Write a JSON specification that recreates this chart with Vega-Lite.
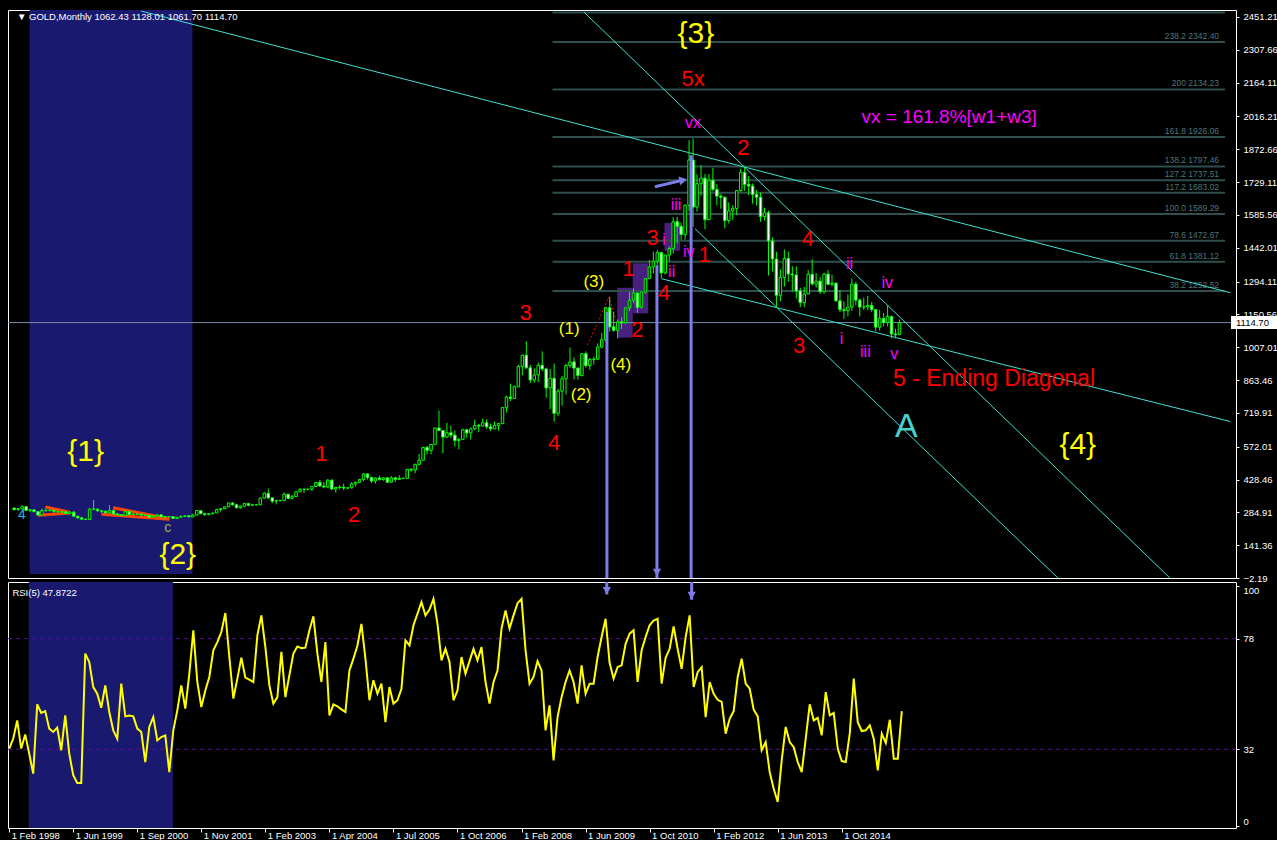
{
"$schema":"https://vega.github.io/schema/vega-lite/v6.json",
"background":"#000000",
"padding":{"left":4,"top":8,"right":0,"bottom":0},
"spacing":4,
"bounds":"flush",
"config":{"view":{"stroke":"#FFFFFF","strokeWidth":1},"text":{"font":"Liberation Sans"},"axis":{"grid":false,"domain":false,"labelColor":"#FFFFFF","tickColor":"#FFFFFF","labelFont":"Liberation Sans","labelFontSize":9.5,"labelOverlap":false}},
"datasets":{
"bars":[
{"t":0,"o":304,"h":305,"l":292,"c":297,"r":32.3},{"t":1,"o":297,"h":303,"l":292,"c":301,"r":36.4},{"t":2,"o":301,"h":315,"l":300,"c":310,"r":44.0},{"t":3,"o":310,"h":311,"l":290,"c":294,"r":32.3},{"t":4,"o":294,"h":299,"l":286,"c":296,"r":38.2},{"t":5,"o":296,"h":297,"l":286,"c":288,"r":30.2},{"t":6,"o":288,"h":289,"l":272,"c":273,"r":21.9},{"t":7,"o":273,"h":301,"l":272,"c":293,"r":50.7},{"t":8,"o":293,"h":302,"l":288,"c":292,"r":47.1},{"t":9,"o":292,"h":300,"l":290,"c":294,"r":47.9},
{"t":10,"o":294,"h":296,"l":283,"c":288,"r":40.6},{"t":11,"o":288,"h":292,"l":284,"c":287,"r":39.2},{"t":12,"o":287,"h":291,"l":282,"c":287,"r":41.0},{"t":13,"o":287,"h":290,"l":278,"c":280,"r":31.6},{"t":14,"o":280,"h":291,"l":279,"c":286,"r":46.1},{"t":15,"o":286,"h":290,"l":266,"c":268,"r":30.2},{"t":16,"o":268,"h":269,"l":257,"c":261,"r":21.2},{"t":17,"o":261,"h":263,"l":253,"c":255,"r":18.0},{"t":18,"o":255,"h":258,"l":252,"c":254,"r":18.0},{"t":19,"o":254,"h":304,"l":253,"c":299,"r":71.8},
{"t":20,"o":299,"h":339,"l":295,"c":299,"r":68.3},{"t":21,"o":299,"h":302,"l":287,"c":292,"r":57.9},{"t":22,"o":292,"h":294,"l":281,"c":290,"r":55.1},{"t":23,"o":290,"h":292,"l":281,"c":283,"r":49.3},{"t":24,"o":283,"h":316,"l":281,"c":293,"r":58.6},{"t":25,"o":293,"h":297,"l":276,"c":278,"r":47.5},{"t":26,"o":278,"h":283,"l":273,"c":275,"r":39.9},{"t":27,"o":275,"h":277,"l":268,"c":272,"r":36.4},{"t":28,"o":272,"h":292,"l":271,"c":289,"r":59.3},{"t":29,"o":289,"h":291,"l":275,"c":276,"r":45.7},
{"t":30,"o":276,"h":280,"l":271,"c":277,"r":46.1},{"t":31,"o":277,"h":279,"l":275,"c":277,"r":45.7},{"t":32,"o":277,"h":278,"l":268,"c":273,"r":40.6},{"t":33,"o":273,"h":275,"l":270,"c":272,"r":39.2},{"t":34,"o":272,"h":275,"l":263,"c":264,"r":26.7},{"t":35,"o":264,"h":270,"l":262,"c":269,"r":41.3},{"t":36,"o":269,"h":275,"l":267,"c":274,"r":45.4},{"t":37,"o":274,"h":275,"l":263,"c":265,"r":35.7},{"t":38,"o":265,"h":268,"l":255,"c":267,"r":37.1},{"t":39,"o":267,"h":268,"l":264,"c":266,"r":37.8},
{"t":40,"o":266,"h":268,"l":256,"c":258,"r":22.5},{"t":41,"o":258,"h":265,"l":255,"c":264,"r":39.9},{"t":42,"o":264,"h":272,"l":263,"c":267,"r":48.2},{"t":43,"o":267,"h":273,"l":266,"c":270,"r":58.6},{"t":44,"o":270,"h":272,"l":264,"c":265,"r":48.9},{"t":45,"o":265,"h":279,"l":265,"c":273,"r":63.4},{"t":46,"o":273,"h":294,"l":272,"c":293,"r":81.5},{"t":47,"o":293,"h":294,"l":277,"c":279,"r":60.0},{"t":48,"o":279,"h":281,"l":270,"c":275,"r":49.6},{"t":49,"o":275,"h":282,"l":272,"c":279,"r":56.5},
{"t":50,"o":279,"h":284,"l":277,"c":282,"r":62.1},{"t":51,"o":282,"h":300,"l":281,"c":297,"r":73.2},{"t":52,"o":297,"h":304,"l":288,"c":301,"r":76.6},{"t":53,"o":301,"h":310,"l":299,"c":309,"r":80.8},{"t":54,"o":309,"h":327,"l":307,"c":326,"r":88.7},{"t":55,"o":326,"h":329,"l":314,"c":318,"r":70.4},{"t":56,"o":318,"h":322,"l":302,"c":305,"r":53.1},{"t":57,"o":305,"h":315,"l":301,"c":312,"r":61.4},{"t":58,"o":312,"h":326,"l":310,"c":324,"r":70.1},{"t":59,"o":324,"h":325,"l":311,"c":316,"r":61.8},
{"t":60,"o":316,"h":322,"l":313,"c":318,"r":61.0},{"t":61,"o":318,"h":320,"l":315,"c":318,"r":60.0},{"t":62,"o":318,"h":349,"l":316,"c":347,"r":79.4},{"t":63,"o":347,"h":373,"l":343,"c":368,"r":87.7},{"t":64,"o":368,"h":389,"l":345,"c":348,"r":74.5},{"t":65,"o":348,"h":352,"l":325,"c":334,"r":58.6},{"t":66,"o":334,"h":341,"l":320,"c":336,"r":51.0},{"t":67,"o":336,"h":339,"l":333,"c":337,"r":53.7},{"t":68,"o":337,"h":372,"l":335,"c":364,"r":72.5},{"t":69,"o":364,"h":366,"l":342,"c":346,"r":53.7},
{"t":70,"o":346,"h":362,"l":341,"c":354,"r":62.8},{"t":71,"o":354,"h":379,"l":352,"c":375,"r":71.8},{"t":72,"o":375,"h":391,"l":372,"c":385,"r":74.8},{"t":73,"o":385,"h":390,"l":370,"c":386,"r":74.1},{"t":74,"o":386,"h":388,"l":382,"c":386,"r":74.3},{"t":75,"o":386,"h":400,"l":378,"c":398,"r":81.5},{"t":76,"o":398,"h":417,"l":396,"c":416,"r":87.3},{"t":77,"o":416,"h":427,"l":399,"c":400,"r":71.8},{"t":78,"o":400,"h":417,"l":390,"c":396,"r":60.0},{"t":79,"o":396,"h":430,"l":392,"c":426,"r":76.6},
{"t":80,"o":426,"h":428,"l":381,"c":387,"r":46.1},{"t":81,"o":387,"h":397,"l":371,"c":394,"r":50.7},{"t":82,"o":394,"h":404,"l":385,"c":395,"r":49.9},{"t":83,"o":395,"h":411,"l":382,"c":391,"r":48.6},{"t":84,"o":391,"h":394,"l":388,"c":392,"r":47.5},{"t":85,"o":392,"h":417,"l":390,"c":409,"r":64.8},{"t":86,"o":409,"h":420,"l":397,"c":416,"r":69.7},{"t":87,"o":416,"h":432,"l":412,"c":428,"r":75.2},{"t":88,"o":428,"h":456,"l":421,"c":453,"r":84.2},{"t":89,"o":453,"h":456,"l":428,"c":438,"r":69.7},
{"t":90,"o":438,"h":438,"l":414,"c":422,"r":52.4},{"t":91,"o":422,"h":438,"l":411,"c":435,"r":60.7},{"t":92,"o":435,"h":446,"l":424,"c":428,"r":55.1},{"t":93,"o":428,"h":438,"l":423,"c":436,"r":59.3},{"t":94,"o":436,"h":438,"l":414,"c":417,"r":43.3},{"t":95,"o":417,"h":443,"l":414,"c":436,"r":57.9},{"t":96,"o":436,"h":439,"l":418,"c":429,"r":51.0},{"t":97,"o":429,"h":447,"l":429,"c":433,"r":52.4},{"t":98,"o":433,"h":436,"l":431,"c":434,"r":57.2},{"t":99,"o":434,"h":475,"l":433,"c":473,"r":77.3},
{"t":100,"o":473,"h":479,"l":462,"c":470,"r":75.2},{"t":101,"o":470,"h":497,"l":456,"c":495,"r":83.6},{"t":102,"o":495,"h":540,"l":490,"c":513,"r":88.4},{"t":103,"o":513,"h":572,"l":513,"c":569,"r":93.3},{"t":104,"o":569,"h":575,"l":538,"c":556,"r":87.7},{"t":105,"o":556,"h":584,"l":538,"c":582,"r":90.1},{"t":106,"o":582,"h":654,"l":580,"c":654,"r":94.6},{"t":107,"o":654,"h":730,"l":640,"c":643,"r":84.2},{"t":108,"o":643,"h":645,"l":542,"c":614,"r":69.0},{"t":109,"o":614,"h":676,"l":610,"c":633,"r":73.8},
{"t":110,"o":633,"h":664,"l":610,"c":623,"r":68.3},{"t":111,"o":623,"h":643,"l":573,"c":599,"r":52.4},{"t":112,"o":599,"h":610,"l":560,"c":604,"r":56.5},{"t":113,"o":604,"h":650,"l":603,"c":646,"r":70.4},{"t":114,"o":646,"h":650,"l":611,"c":632,"r":63.4},{"t":115,"o":632,"h":657,"l":603,"c":650,"r":68.7},{"t":116,"o":650,"h":690,"l":645,"c":665,"r":73.8},{"t":117,"o":665,"h":672,"l":636,"c":662,"r":69.0},{"t":118,"o":662,"h":694,"l":661,"c":677,"r":74.5},{"t":119,"o":677,"h":692,"l":651,"c":659,"r":60.0},
{"t":120,"o":659,"h":673,"l":640,"c":650,"r":51.0},{"t":121,"o":650,"h":683,"l":648,"c":665,"r":60.0},{"t":122,"o":665,"h":676,"l":642,"c":673,"r":64.8},{"t":123,"o":673,"h":745,"l":670,"c":743,"r":82.2},{"t":124,"o":743,"h":795,"l":722,"c":789,"r":89.8},{"t":125,"o":789,"h":848,"l":772,"c":783,"r":82.2},{"t":126,"o":783,"h":840,"l":781,"c":834,"r":87.7},{"t":127,"o":834,"h":930,"l":833,"c":923,"r":92.8},{"t":128,"o":923,"h":975,"l":884,"c":972,"r":94.6},{"t":129,"o":972,"h":1033,"l":912,"c":917,"r":73.2},
{"t":130,"o":917,"h":930,"l":850,"c":864,"r":59.3},{"t":131,"o":864,"h":915,"l":851,"c":886,"r":62.1},{"t":132,"o":886,"h":940,"l":855,"c":928,"r":68.7},{"t":133,"o":928,"h":989,"l":902,"c":912,"r":64.8},{"t":134,"o":912,"h":918,"l":786,"c":829,"r":39.9},{"t":135,"o":829,"h":912,"l":736,"c":871,"r":50.3},{"t":136,"o":871,"h":936,"l":681,"c":718,"r":27.4},{"t":137,"o":718,"h":825,"l":705,"c":815,"r":45.4},{"t":138,"o":815,"h":882,"l":751,"c":869,"r":53.7},{"t":139,"o":869,"h":935,"l":800,"c":927,"r":60.0},
{"t":140,"o":927,"h":1006,"l":917,"c":943,"r":64.8},{"t":141,"o":943,"h":963,"l":866,"c":916,"r":60.0},{"t":142,"o":916,"h":918,"l":865,"c":883,"r":51.0},{"t":143,"o":883,"h":981,"l":880,"c":979,"r":66.9},{"t":144,"o":979,"h":989,"l":918,"c":927,"r":55.1},{"t":145,"o":927,"h":960,"l":908,"c":954,"r":59.3},{"t":146,"o":954,"h":965,"l":931,"c":955,"r":59.3},{"t":147,"o":955,"h":1024,"l":951,"c":1008,"r":70.4},{"t":148,"o":1008,"h":1070,"l":1003,"c":1040,"r":78.7},{"t":149,"o":1040,"h":1183,"l":1033,"c":1180,"r":86.3},
{"t":150,"o":1180,"h":1227,"l":1075,"c":1096,"r":68.0},{"t":151,"o":1096,"h":1162,"l":1075,"c":1081,"r":61.4},{"t":152,"o":1081,"h":1128,"l":1045,"c":1118,"r":66.2},{"t":153,"o":1118,"h":1138,"l":1087,"c":1113,"r":66.9},{"t":154,"o":1113,"h":1180,"l":1111,"c":1179,"r":75.9},{"t":155,"o":1179,"h":1249,"l":1165,"c":1212,"r":80.1},{"t":156,"o":1212,"h":1265,"l":1200,"c":1244,"r":81.5},{"t":157,"o":1244,"h":1245,"l":1157,"c":1181,"r":60.0},{"t":158,"o":1181,"h":1250,"l":1177,"c":1248,"r":73.2},{"t":159,"o":1248,"h":1308,"l":1242,"c":1307,"r":78.7},
{"t":160,"o":1307,"h":1388,"l":1306,"c":1358,"r":83.6},{"t":161,"o":1358,"h":1425,"l":1330,"c":1383,"r":85.6},{"t":162,"o":1383,"h":1432,"l":1360,"c":1421,"r":86.3},{"t":163,"o":1421,"h":1424,"l":1309,"c":1332,"r":59.3},{"t":164,"o":1332,"h":1411,"l":1326,"c":1410,"r":70.1},{"t":165,"o":1410,"h":1448,"l":1383,"c":1439,"r":73.8},{"t":166,"o":1439,"h":1576,"l":1418,"c":1556,"r":83.1},{"t":167,"o":1556,"h":1577,"l":1462,"c":1536,"r":73.8},{"t":168,"o":1536,"h":1553,"l":1477,"c":1500,"r":65.5},{"t":169,"o":1500,"h":1632,"l":1478,"c":1628,"r":78.7},
{"t":170,"o":1628,"h":1912,"l":1603,"c":1826,"r":87.7},{"t":171,"o":1826,"h":1921,"l":1534,"c":1620,"r":57.9},{"t":172,"o":1620,"h":1764,"l":1600,"c":1722,"r":64.1},{"t":173,"o":1722,"h":1803,"l":1669,"c":1746,"r":66.2},{"t":174,"o":1746,"h":1764,"l":1523,"c":1565,"r":45.4},{"t":175,"o":1565,"h":1764,"l":1564,"c":1737,"r":60.0},{"t":176,"o":1737,"h":1791,"l":1689,"c":1697,"r":55.1},{"t":177,"o":1697,"h":1719,"l":1627,"c":1668,"r":52.6},{"t":178,"o":1668,"h":1677,"l":1613,"c":1663,"r":51.7},{"t":179,"o":1663,"h":1666,"l":1527,"c":1561,"r":38.5},
{"t":180,"o":1561,"h":1641,"l":1548,"c":1604,"r":44.7},{"t":181,"o":1604,"h":1628,"l":1564,"c":1614,"r":47.9},{"t":182,"o":1614,"h":1693,"l":1585,"c":1692,"r":62.1},{"t":183,"o":1692,"h":1788,"l":1687,"c":1772,"r":69.7},{"t":184,"o":1772,"h":1796,"l":1691,"c":1719,"r":59.3},{"t":185,"o":1719,"h":1755,"l":1672,"c":1712,"r":57.2},{"t":186,"o":1712,"h":1723,"l":1635,"c":1675,"r":48.5},{"t":187,"o":1675,"h":1694,"l":1626,"c":1663,"r":45.7},{"t":188,"o":1663,"h":1684,"l":1555,"c":1578,"r":31.6},{"t":189,"o":1578,"h":1617,"l":1562,"c":1595,"r":35.0},
{"t":190,"o":1595,"h":1605,"l":1321,"c":1472,"r":22.5},{"t":191,"o":1472,"h":1488,"l":1338,"c":1393,"r":15.6},{"t":192,"o":1393,"h":1424,"l":1180,"c":1234,"r":10.1},{"t":193,"o":1234,"h":1348,"l":1208,"c":1312,"r":27.4},{"t":194,"o":1312,"h":1434,"l":1272,"c":1395,"r":41.3},{"t":195,"o":1395,"h":1424,"l":1293,"c":1327,"r":35.0},{"t":196,"o":1327,"h":1361,"l":1251,"c":1323,"r":32.9},{"t":197,"o":1323,"h":1361,"l":1221,"c":1253,"r":26.7},{"t":198,"o":1253,"h":1267,"l":1182,"c":1202,"r":22.5},{"t":199,"o":1202,"h":1270,"l":1182,"c":1240,"r":36.4},
{"t":200,"o":1240,"h":1345,"l":1238,"c":1326,"r":50.7},{"t":201,"o":1326,"h":1392,"l":1277,"c":1284,"r":44.0},{"t":202,"o":1284,"h":1331,"l":1268,"c":1296,"r":45.1},{"t":203,"o":1296,"h":1315,"l":1240,"c":1250,"r":37.8},{"t":204,"o":1250,"h":1332,"l":1241,"c":1327,"r":55.8},{"t":205,"o":1327,"h":1345,"l":1282,"c":1282,"r":46.1},{"t":206,"o":1282,"h":1324,"l":1272,"c":1287,"r":47.1},{"t":207,"o":1287,"h":1292,"l":1206,"c":1210,"r":32.3},{"t":208,"o":1210,"h":1256,"l":1161,"c":1171,"r":27.1},{"t":209,"o":1171,"h":1208,"l":1131,"c":1167,"r":26.7},
{"t":210,"o":1167,"h":1238,"l":1142,"c":1183,"r":38.5},{"t":211,"o":1183,"h":1308,"l":1167,"c":1283,"r":61.4},{"t":212,"o":1283,"h":1293,"l":1190,"c":1213,"r":43.3},{"t":213,"o":1213,"h":1220,"l":1142,"c":1183,"r":39.6},{"t":214,"o":1183,"h":1224,"l":1170,"c":1183,"r":39.9},{"t":215,"o":1183,"h":1232,"l":1170,"c":1190,"r":42.0},{"t":216,"o":1190,"h":1205,"l":1162,"c":1172,"r":36.4},{"t":217,"o":1172,"h":1174,"l":1077,"c":1095,"r":23.2},{"t":218,"o":1095,"h":1170,"l":1080,"c":1133,"r":38.5},{"t":219,"o":1133,"h":1157,"l":1098,"c":1115,"r":34.6},
{"t":220,"o":1115,"h":1191,"l":1098,"c":1142,"r":44.3},{"t":221,"o":1142,"h":1144,"l":1046,"c":1065,"r":28.1},{"t":222,"o":1065,"h":1088,"l":1046,"c":1061,"r":28.1},{"t":223,"o":1062.43,"h":1128.01,"l":1061.70,"c":1114.70,"r":47.87}
],
"shade":[{"panel":"main","t0":3.9,"t1":44.9,"v0":15.3,"v1":2481.8},{"panel":"rsi","t0":4.9,"t1":40.9,"v0":-0.74,"v1":101.6}],
"prects":[{"t0":151.9,"t1":155.8,"p0":1049,"p1":1267},{"t0":155.8,"t1":159.7,"p0":1155,"p1":1374},{"t0":163.8,"t1":167.7,"p0":1429,"p1":1551}],
"fibl":[{"p":2471.0},{"p":2342.40},{"p":2134.23},{"p":1926.06},{"p":1797.46},{"p":1737.51},{"p":1683.02},{"p":1589.29},{"p":1472.67},{"p":1381.12},{"p":1252.52}],
"fib":[{"p":2342.40,"s":"238.2 2342.40"},{"p":2134.23,"s":"200 2134.23"},{"p":1926.06,"s":"161.8 1926.06"},{"p":1797.46,"s":"138.2 1797.46"},{"p":1737.51,"s":"127.2 1737.51"},{"p":1683.02,"s":"117.2 1683.02"},{"p":1589.29,"s":"100.0  1589.29"},{"p":1472.67,"s":"78.6 1472.67"},{"p":1381.12,"s":"61.8 1381.12"},{"p":1252.52,"s":"38.2 1252.52"}],
"tl":[{"id":"a","t":31.95,"p":2477.4},{"id":"a","t":306.3,"p":1245.6},{"id":"b","t":143.5,"p":2473},{"id":"b","t":291.1,"p":-2},{"id":"c","t":171.5,"p":1525},{"id":"c","t":262.9,"p":-2},{"id":"d","t":163.0,"p":1306.8},{"id":"d","t":306.3,"p":682.2}],
"ol":[{"id":"a","t":7.87,"p":308.4},{"id":"a","t":13.7,"p":286.6},{"id":"b","t":6.0,"p":272.1},{"id":"b","t":14.1,"p":282.2},{"id":"c","t":24.9,"p":305.4},{"id":"c","t":39.1,"p":257.2},{"id":"d","t":22.0,"p":276.5},{"id":"d","t":39.1,"p":254.6}],
"rd":[{"t":144.4,"p":1016.8},{"t":149.8,"p":1226.8},{"t":151.6,"p":1126.2}],
"va":[{"t":149.3,"p0":1162,"p1":-2.19},{"t":161.9,"p0":1366,"p1":-2.19},{"t":170.5,"p0":1847,"p1":-2.19}],
"vah":[{"t":161.9,"p":22}],
"da":[{"t":161.4,"p":1708.7,"t2":168.5,"p2":1737.9}],
"vr":[{"t":149.3,"r0":101.6,"r1":96.4,"rh":98.0},{"t":170.5,"r0":101.6,"r1":94.2,"rh":96.0}],
"lab":[
{"t":171.7,"p":2377,"s":"{3}","k":"P"},{"t":267.9,"p":580,"s":"{4}","k":"P"},{"t":18.0,"p":549,"s":"{1}","k":"P"},{"t":41.2,"p":100,"s":"{2}","k":"P"},
{"t":224.7,"p":658,"s":"A","k":"A"},
{"t":171.0,"p":2180,"s":"5x","k":"R"},{"t":183.7,"p":1879,"s":"2","k":"R"},{"t":199.9,"p":1482,"s":"4","k":"R"},{"t":197.7,"p":1014,"s":"3","k":"R"},{"t":77.4,"p":542,"s":"1","k":"R"},{"t":85.6,"p":272,"s":"2","k":"R"},{"t":128.8,"p":1158,"s":"3","k":"R"},{"t":136.0,"p":590,"s":"4","k":"R"},{"t":154.8,"p":1350,"s":"1","k":"R"},{"t":157.0,"p":1084,"s":"2","k":"R"},{"t":160.8,"p":1483,"s":"3","k":"R"},{"t":163.7,"p":1243,"s":"4","k":"R"},{"t":173.9,"p":1410,"s":"1","k":"R"},
{"t":139.8,"p":1088,"s":"(1)","k":"Y"},{"t":142.8,"p":800,"s":"(2)","k":"Y"},{"t":146.0,"p":1294,"s":"(3)","k":"Y"},{"t":152.8,"p":931,"s":"(4)","k":"Y"},
{"t":171.0,"p":1988,"s":"vx","k":"M"},{"t":163.7,"p":1476,"s":"i","k":"M"},{"t":165.6,"p":1337,"s":"ii","k":"M"},{"t":166.7,"p":1629,"s":"iii","k":"M"},{"t":169.9,"p":1425,"s":"iv","k":"M"},{"t":208.4,"p":1045,"s":"i","k":"M"},{"t":210.4,"p":1372,"s":"ii","k":"M"},{"t":214.4,"p":988,"s":"iii","k":"M"},{"t":219.9,"p":1289,"s":"iv","k":"M"},{"t":221.7,"p":979,"s":"v","k":"M"},
{"t":235.5,"p":2014,"s":"vx = 161.8%[w1+w3]","k":"N"},
{"t":246.8,"p":866,"s":"5 - Ending Diagonal","k":"E"},
{"t":38.7,"p":218,"s":"c","k":"C"},
{"t":1.95,"p":273,"s":"4","k":"S"}
]
},
"vconcat":[
{
"width":1228,"height":568,
"layer":[
{"data":{"name":"shade"},"transform":[{"filter":"datum.panel=='main'"}],"mark":{"type":"rect","color":"#191970"},
 "encoding":{"x":{"field":"t0","type":"quantitative","scale":{"domain":[-0.3,306.5],"nice":false,"zero":false},"axis":null},"x2":{"field":"t1"},
 "y":{"field":"v0","type":"quantitative","scale":{"domain":[-2.19,2481.8],"nice":false,"zero":false},
  "axis":{"orient":"right","values":[2451.21,2307.66,2164.11,2016.21,1872.66,1729.11,1585.56,1442.01,1294.11,1150.56,1007.01,863.46,719.91,572.01,428.46,284.91,141.36,-2.19],"tickCount":40,"format":".2f","tickSize":3,"labelPadding":4,"title":null,"labelFlush":false,"labelOverlap":false}},
 "y2":{"field":"v1"}}},
{"data":{"name":"prects"},"mark":{"type":"rect","color":"#48207E"},"encoding":{"x":{"field":"t0","type":"quantitative","axis":null},"x2":{"field":"t1"},"y":{"field":"p0","type":"quantitative"},"y2":{"field":"p1"}}},
{"data":{"name":"fibl"},"mark":{"type":"rule","color":"#2F4F4F","strokeWidth":2},"encoding":{"x":{"datum":135.6,"type":"quantitative","axis":null},"x2":{"datum":305.0},"y":{"field":"p","type":"quantitative"}}},
{"data":{"name":"fib"},"mark":{"type":"text","align":"right","baseline":"bottom","dy":-1,"fontSize":8.5,"color":"#4F7777"},"encoding":{"x":{"datum":303.5,"type":"quantitative","axis":null},"y":{"field":"p","type":"quantitative"},"text":{"field":"s"}}},
{"data":{"values":[{"p":1114.7}]},"mark":{"type":"rule","color":"#7890A8","strokeWidth":1},"encoding":{"y":{"field":"p","type":"quantitative"}}},
{"data":{"name":"tl"},"mark":{"type":"line","color":"#40E0D0","strokeWidth":1},"encoding":{"x":{"field":"t","type":"quantitative","axis":null},"y":{"field":"p","type":"quantitative"},"detail":{"field":"id"}}},
{"data":{"name":"ol"},"mark":{"type":"line","color":"#FF4500","strokeWidth":3},"encoding":{"x":{"field":"t","type":"quantitative","axis":null},"y":{"field":"p","type":"quantitative"},"detail":{"field":"id"}}},
{"data":{"name":"rd"},"mark":{"type":"line","color":"#FF0000","strokeWidth":1,"strokeDash":[2,2]},"encoding":{"x":{"field":"t","type":"quantitative","axis":null},"y":{"field":"p","type":"quantitative"}}},
{"data":{"name":"bars"},"mark":{"type":"rule","color":"#00FF00","strokeWidth":1},"encoding":{"x":{"field":"t","type":"quantitative","axis":null},"y":{"field":"l","type":"quantitative"},"y2":{"field":"h"}}},
{"data":{"name":"bars"},"mark":{"type":"bar","width":2.5,"stroke":"#00FF00","strokeWidth":1},"encoding":{"x":{"field":"t","type":"quantitative","axis":null},"y":{"field":"o","type":"quantitative"},"y2":{"field":"c"},"fill":{"condition":{"test":"datum.c >= datum.o","value":"#000000"},"value":"#FFFFFF"}}},
{"data":{"name":"va"},"mark":{"type":"rule","color":"#7C7CEA","strokeWidth":3},"encoding":{"x":{"field":"t","type":"quantitative","axis":null},"y":{"field":"p0","type":"quantitative"},"y2":{"field":"p1"}}},
{"data":{"name":"vah"},"mark":{"type":"point","shape":"triangle-down","filled":true,"color":"#7C7CEA","size":70,"opacity":1},"encoding":{"x":{"field":"t","type":"quantitative","axis":null},"y":{"field":"p","type":"quantitative"}}},
{"data":{"name":"da"},"mark":{"type":"rule","color":"#7C7CEA","strokeWidth":3},"encoding":{"x":{"field":"t","type":"quantitative","axis":null},"y":{"field":"p","type":"quantitative"},"x2":{"field":"t2"},"y2":{"field":"p2"}}},
{"data":{"name":"da"},"mark":{"type":"point","shape":"triangle-right","filled":true,"color":"#7C7CEA","size":80,"angle":-13,"opacity":1},"encoding":{"x":{"field":"t2","type":"quantitative","axis":null},"y":{"field":"p2","type":"quantitative"}}},
{"data":{"name":"lab"},"transform":[{"filter":"datum.k=='P'"}],"mark":{"type":"text","fontSize":30,"color":"#FFFF00","baseline":"middle"},"encoding":{"x":{"field":"t","type":"quantitative","axis":null},"y":{"field":"p","type":"quantitative"},"text":{"field":"s"}}},
{"data":{"name":"lab"},"transform":[{"filter":"datum.k=='A'"}],"mark":{"type":"text","fontSize":34,"color":"#48D1CC","baseline":"middle"},"encoding":{"x":{"field":"t","type":"quantitative","axis":null},"y":{"field":"p","type":"quantitative"},"text":{"field":"s"}}},
{"data":{"name":"lab"},"transform":[{"filter":"datum.k=='R'"}],"mark":{"type":"text","fontSize":22,"color":"#FF0000","baseline":"middle"},"encoding":{"x":{"field":"t","type":"quantitative","axis":null},"y":{"field":"p","type":"quantitative"},"text":{"field":"s"}}},
{"data":{"name":"lab"},"transform":[{"filter":"datum.k=='Y'"}],"mark":{"type":"text","fontSize":17,"color":"#FFFF00","baseline":"middle"},"encoding":{"x":{"field":"t","type":"quantitative","axis":null},"y":{"field":"p","type":"quantitative"},"text":{"field":"s"}}},
{"data":{"name":"lab"},"transform":[{"filter":"datum.k=='M'"}],"mark":{"type":"text","fontSize":16,"color":"#FF00FF","baseline":"middle"},"encoding":{"x":{"field":"t","type":"quantitative","axis":null},"y":{"field":"p","type":"quantitative"},"text":{"field":"s"}}},
{"data":{"name":"lab"},"transform":[{"filter":"datum.k=='N'"}],"mark":{"type":"text","fontSize":19,"color":"#FF00FF","baseline":"middle"},"encoding":{"x":{"field":"t","type":"quantitative","axis":null},"y":{"field":"p","type":"quantitative"},"text":{"field":"s"}}},
{"data":{"name":"lab"},"transform":[{"filter":"datum.k=='E'"}],"mark":{"type":"text","fontSize":23,"color":"#FF0000","baseline":"middle"},"encoding":{"x":{"field":"t","type":"quantitative","axis":null},"y":{"field":"p","type":"quantitative"},"text":{"field":"s"}}},
{"data":{"name":"lab"},"transform":[{"filter":"datum.k=='C'"}],"mark":{"type":"text","fontSize":14,"color":"#9DB050","baseline":"middle"},"encoding":{"x":{"field":"t","type":"quantitative","axis":null},"y":{"field":"p","type":"quantitative"},"text":{"field":"s"}}},
{"data":{"name":"lab"},"transform":[{"filter":"datum.k=='S'"}],"mark":{"type":"text","fontSize":14,"color":"#1EB4E6","baseline":"middle"},"encoding":{"x":{"field":"t","type":"quantitative","axis":null},"y":{"field":"p","type":"quantitative"},"text":{"field":"s"}}},
{"data":{"values":[{"t":0.7,"p":2451,"s":"▼ GOLD,Monthly  1062.43 1128.01 1061.70 1114.70"}]},"mark":{"type":"text","align":"left","baseline":"middle","fontSize":9.5,"color":"#FFFFFF"},"encoding":{"x":{"field":"t","type":"quantitative","axis":null},"y":{"field":"p","type":"quantitative"},"text":{"field":"s"}}},
{"data":{"values":[{"p":1114.7,"s":"1114.70"}]},"mark":{"type":"rect","color":"#FFFFFF","x2Offset":46,"yOffset":-6.5,"y2Offset":6.5},"encoding":{"x":{"datum":306.5,"type":"quantitative","axis":null},"x2":{"datum":306.5},"y":{"field":"p","type":"quantitative"},"y2":{"field":"p"}}},
{"data":{"values":[{"p":1114.7,"s":"1114.70"}]},"mark":{"type":"text","align":"left","baseline":"middle","dx":5,"fontSize":9.5,"color":"#000000"},"encoding":{"x":{"datum":306.5,"type":"quantitative","axis":null},"y":{"field":"p","type":"quantitative"},"text":{"field":"s"}}}
]
},
{
"width":1228,"height":246,
"layer":[
{"data":{"name":"shade"},"transform":[{"filter":"datum.panel=='rsi'"}],"mark":{"type":"rect","color":"#191970"},
 "encoding":{"x":{"field":"t0","type":"quantitative","scale":{"domain":[-0.3,306.5],"nice":false,"zero":false},
  "axis":{"values":[0,16,32,48,64,80,96,112,128,144,160,176,192,208],"tickCount":40,"labelExpr":"['1 Feb 1998','1 Jun 1999','1 Sep 2000','1 Nov 2001','1 Feb 2003','1 Apr 2004','1 Jul 2005','1 Oct 2006','1 Feb 2008','1 Jun 2009','1 Oct 2010','1 Feb 2012','1 Jun 2013','1 Oct 2014'][round(datum.value/16)]","labelAlign":"left","labelOffset":2,"tickSize":4,"labelPadding":-2,"title":null,"labelOverlap":false,"labelFlush":false}},
 "x2":{"field":"t1"},
 "y":{"field":"v0","type":"quantitative","scale":{"domain":[-0.74,101.6],"nice":false,"zero":false},
  "axis":{"orient":"right","values":[100,78,32,0],"tickCount":10,"tickSize":3,"labelPadding":4,"title":null,"labelFlush":6,"labelOverlap":false}},
 "y2":{"field":"v1"}}},
{"data":{"values":[{"r":78},{"r":32}]},"mark":{"type":"rule","color":"#5A0AA0","strokeDash":[4,4],"strokeWidth":1},"encoding":{"y":{"field":"r","type":"quantitative"}}},
{"data":{"name":"bars"},"mark":{"type":"line","color":"#FFFF00","strokeWidth":2},"encoding":{"x":{"field":"t","type":"quantitative"},"y":{"field":"r","type":"quantitative"}}},
{"data":{"name":"vr"},"mark":{"type":"rule","color":"#7C7CEA","strokeWidth":3},"encoding":{"x":{"field":"t","type":"quantitative"},"y":{"field":"r0","type":"quantitative"},"y2":{"field":"r1"}}},
{"data":{"name":"vr"},"mark":{"type":"point","shape":"triangle-down","filled":true,"color":"#7C7CEA","size":70,"opacity":1},"encoding":{"x":{"field":"t","type":"quantitative"},"y":{"field":"rh","type":"quantitative"}}},
{"data":{"values":[{"t":0.8,"r":97.1,"s":"RSI(5) 47.8722"}]},"mark":{"type":"text","align":"left","baseline":"middle","fontSize":9.5,"color":"#FFFFFF"},"encoding":{"x":{"field":"t","type":"quantitative"},"y":{"field":"r","type":"quantitative"},"text":{"field":"s"}}}
]
}
]
}
